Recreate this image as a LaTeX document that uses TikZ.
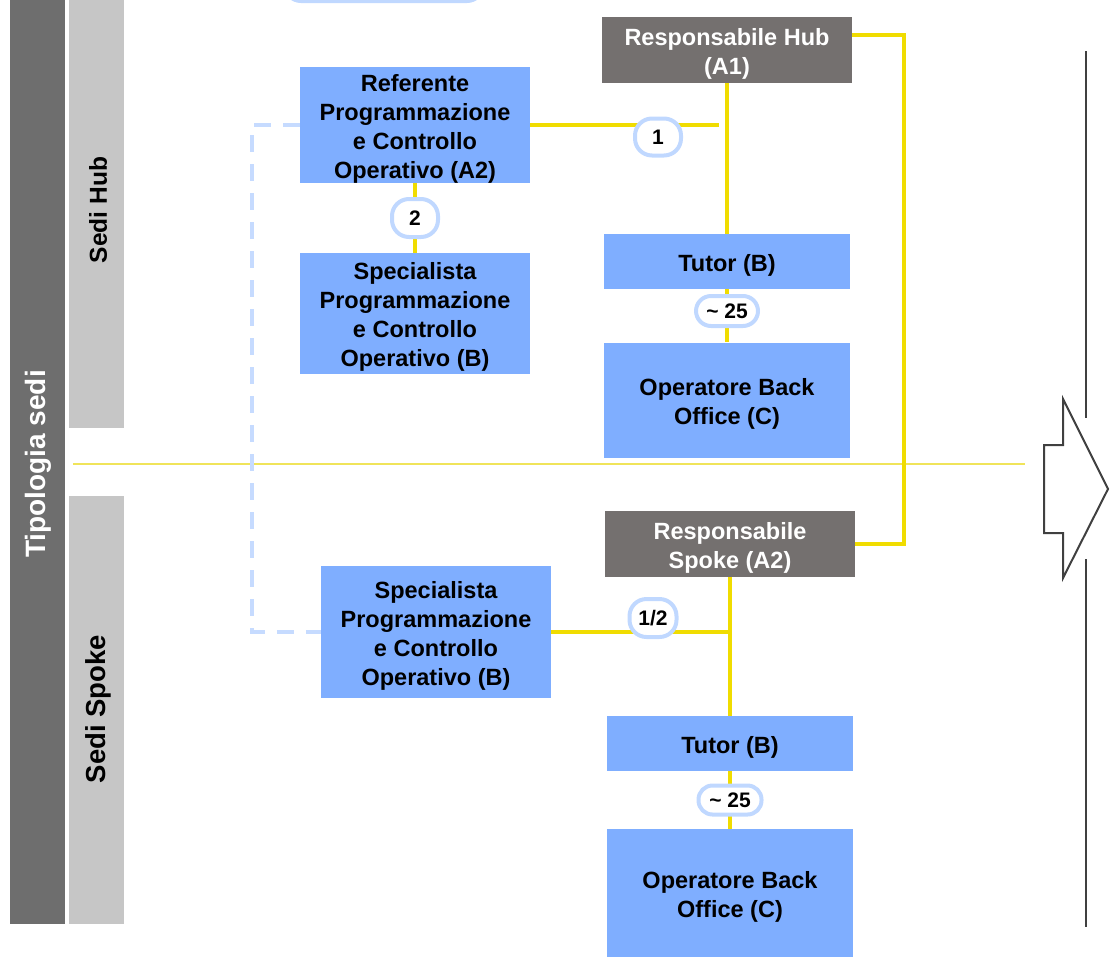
\documentclass[tikz,border=0pt]{standalone}
\usepackage{fontspec}
\setmainfont{Liberation Sans}
\definecolor{boxblue}{RGB}{127,174,255}
\definecolor{darkbox}{RGB}{116,112,111}
\definecolor{pillblue}{RGB}{192,216,255}
\definecolor{hubyellow}{RGB}{240,220,0}
\definecolor{sepyellow}{RGB}{240,228,90}
\definecolor{bardark}{RGB}{110,110,110}
\definecolor{barlight}{RGB}{198,198,198}
\definecolor{dashblue}{RGB}{198,219,255}
\definecolor{arrowgray}{RGB}{64,64,64}
\newcommand\toppad{\rule{0pt}{24pt}}
\newcommand\toppadg{\rule{0pt}{25.5pt}}
\tikzset{
  bluebox/.style={fill=boxblue, inner sep=0pt, align=center, text=black,
    font=\bfseries\fontsize{23.5}{29}\selectfont},
  graybox/.style={fill=darkbox, inner sep=0pt, align=center, text=white,
    font=\bfseries\fontsize{23.5}{29}\selectfont},
  pill/.style={draw=pillblue, line width=4pt, fill=white, rounded corners=17pt,
    inner sep=0pt, font=\bfseries\fontsize{21}{24}\selectfont},
  link/.style={draw=hubyellow, line width=4pt},
  dashlink/.style={draw=dashblue, line width=4pt, dash pattern=on 17pt off 12pt},
  barlabel/.style={rotate=90, inner sep=0pt}
}
\begin{document}
\begin{tikzpicture}[x=1pt,y=-1pt]
\useasboundingbox (0,0) rectangle (1115,959);
\clip (0,0) rectangle (1115,959);
% left bars
\fill[bardark] (10,0) rectangle (65,924);
\fill[barlight] (69,0) rectangle (124,428);
\fill[barlight] (69,496) rectangle (124,924);
\node[barlabel, text=white, font=\bfseries\fontsize{28}{30}\selectfont] (tip) at (38,464) {Tipologia sedi};
\node[barlabel, font=\bfseries\fontsize{24.5}{30}\selectfont] (hub) at (98,210) {Sedi Hub};
\node[barlabel, font=\bfseries\fontsize{27.5}{30}\selectfont] (spoke) at (98,709) {Sedi Spoke};
% separator
\draw[sepyellow, line width=1.5pt] (73,464) -- (1025,464);
% partial pill at top
\draw[draw=pillblue, line width=4pt, rounded corners=16pt, fill=white] (285,-40) rectangle (483,1);
% boxes
\node[graybox, minimum width=250pt, minimum height=66pt] (rhub) at (727,50) {\toppadg Responsabile Hub\\(A1)};
\node[bluebox, minimum width=230pt, minimum height=116pt] (ref) at (415,125) {\toppad Referente\\Programmazione\\e Controllo\\Operativo (A2)};
\node[bluebox, minimum width=230pt, minimum height=121pt] (spech) at (415,313.5) {\toppad Specialista\\Programmazione\\e Controllo\\Operativo (B)};
\node[bluebox, minimum width=246pt, minimum height=55pt] (tutorh) at (727,261.5) {\toppad Tutor (B)};
\node[bluebox, minimum width=246pt, minimum height=115pt] (opeh) at (727,400) {\toppad Operatore Back\\Office (C)};
\node[graybox, minimum width=250pt, minimum height=66pt] (rspoke) at (730,544) {\toppadg Responsabile\\Spoke (A2)};
\node[bluebox, minimum width=230pt, minimum height=132pt] (specs) at (436,632) {\toppad Specialista\\Programmazione\\e Controllo\\Operativo (B)};
\node[bluebox, minimum width=246pt, minimum height=55pt] (tutors) at (730,743.5) {\toppad Tutor (B)};
\node[bluebox, minimum width=246pt, minimum height=128pt] (opes) at (730,893) {\toppad Operatore Back\\Office (C)};
% connectors
\coordinate (j1) at (719,125);
\draw[link] ([yshift=15pt]rhub.east) -- ++(52,0) |- (rspoke.east);
\draw[link] (rhub.south) -- (tutorh.north);
\draw[link] (ref.east) -- (j1);
\draw[link] (ref.south) -- (spech.north);
\draw[link] (tutorh.south) -- (opeh.north);
\draw[link] (rspoke.south) -- (tutors.north);
\draw[link] (specs.east) -- ([xshift=2pt]rspoke.south |- specs.east);
\draw[link] (tutors.south) -- (opes.north);
\draw[dashlink] (ref.west) -- ++(-48,0) |- (specs.west);
% pills
\node[pill, minimum width=46pt, minimum height=37pt] (p1) at (658,137) {1};
\node[pill, minimum width=46pt, minimum height=38pt] (p2) at (415,218) {2};
\node[pill, minimum width=62pt, minimum height=30pt, rounded corners=15pt] (p3) at (727,311) {\textasciitilde\ 25};
\node[pill, minimum width=47pt, minimum height=38pt] (p4) at (653,618) {1/2};
\node[pill, minimum width=63pt, minimum height=29pt, rounded corners=14pt] (p5) at (730,800) {\textasciitilde\ 25};
% right arrow
\draw[arrowgray, line width=2pt, line join=miter] (1044,445) -- (1063,445) -- (1063,399) -- (1108,489) -- (1063,578) -- (1063,533) -- (1044,533) -- cycle;
\draw[arrowgray, line width=2pt] (1086,51) -- (1086,418);
\draw[arrowgray, line width=2pt] (1086,559) -- (1086,927);
\end{tikzpicture}
\end{document}
